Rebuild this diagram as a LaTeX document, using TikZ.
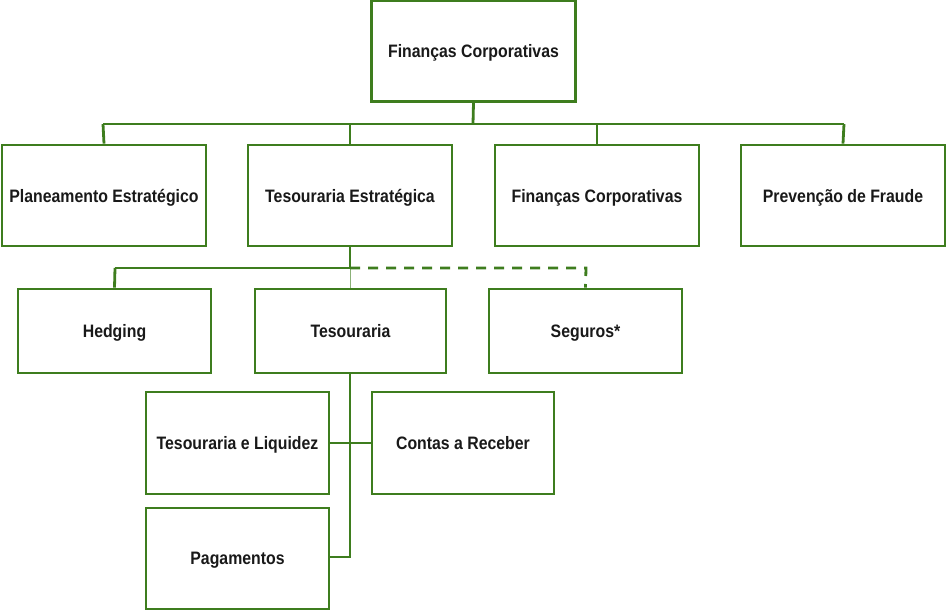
\documentclass[tikz,border=0pt]{standalone}
\usepackage{fontspec}
\setmainfont{Liberation Sans}
\newfontfamily\narrowbold[FakeStretch=0.88]{Liberation Sans Bold}
\definecolor{boxgreen}{RGB}{62,125,30}
\begin{document}
\begin{tikzpicture}[x=1pt,y=-1pt,
  box/.style={draw=boxgreen, line width=2.8pt, fill=white, rectangle, inner sep=0pt,
    text depth=0pt, font=\fontsize{18pt}{20pt}\narrowbold, text=black!90},
  conn/.style={draw=boxgreen, line width=2.8pt},
  thinconn/.style={draw=boxgreen!60, line width=1pt},
  dashconn/.style={draw=boxgreen, line width=2.8pt, dash pattern=on 10pt off 8pt}]
\useasboundingbox (0,0) rectangle (946,611);
\coordinate (b1) at (103,124);
\coordinate (b4) at (844,124);
\coordinate (t1) at (473,124);
\coordinate (h1) at (115,268);
\coordinate (h2) at (350,268);
\coordinate (h3) at (586,268);
\coordinate (v2) at (350,557);

\node[box, minimum width=204pt, minimum height=101pt] (top) at (473.5,51) {Finanças Corporativas};
\node[box, minimum width=204pt, minimum height=101pt] (pe) at (104,195.5) {Planeamento Estratégico};
\node[box, minimum width=204pt, minimum height=101pt] (te) at (350,195.5) {Tesouraria Estratégica};
\node[box, minimum width=204pt, minimum height=101pt] (fc) at (597,195.5) {Finanças Corporativas};
\node[box, minimum width=204pt, minimum height=101pt] (pf) at (843,195.5) {Prevenção de Fraude};
\node[box, minimum width=193pt, minimum height=84pt] (he) at (114.5,331) {Hedging};
\node[box, minimum width=191pt, minimum height=84pt] (ts) at (350.5,331) {Tesouraria};
\node[box, minimum width=193pt, minimum height=84pt] (se) at (585.5,331) {Seguros*};
\node[box, minimum width=183pt, minimum height=102pt] (tl) at (237.5,443) {Tesouraria e Liquidez};
\node[box, minimum width=182pt, minimum height=102pt] (cr) at (463,443) {Contas a Receber};
\node[box, minimum width=183pt, minimum height=101pt] (pg) at (237.5,558.5) {Pagamentos};

\draw[conn] (top.south) -- (t1);
\draw[conn] (b1) -- (b4);
\draw[conn] (b1) -- (pe.north);
\draw[conn] (te.north |- b1) -- (te.north);
\draw[conn] (fc.north |- b1) -- (fc.north);
\draw[conn] (b4) -- (pf.north);
\draw[conn] (te.south) -- (h2);
\draw[conn] (h1) -- (h2);
\draw[conn] (h1) -- (he.north);
\draw[thinconn] (h2) -- (ts.north -| h2);
\draw[dashconn] (h2) -- (h3) -- (se.north);
\draw[conn] (ts.south -| v2) -- (v2) -- (pg.east |- v2);
\draw[conn] (tl.east) -- (cr.west);
\end{tikzpicture}
\end{document}
